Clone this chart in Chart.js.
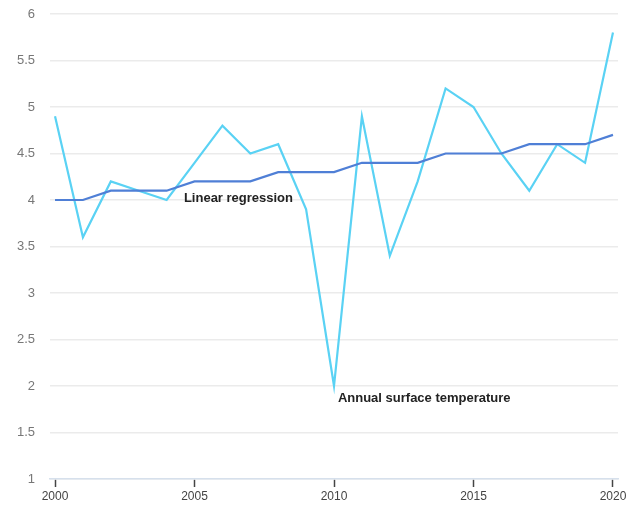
<!DOCTYPE html>
<html>
<head>
<meta charset="utf-8">
<script src="https://cdn.jsdelivr.net/npm/chart.js@4.4.0/dist/chart.umd.min.js"></script>
<style>
  html, body { margin: 0; padding: 0; background: #fff; }
  #wrap { width: 631px; height: 529px; }
</style>
</head>
<body>
<div id="wrap"><canvas id="tempChart"></canvas></div>
<script>
// years on the x axis
const years = [2000, 2001, 2002, 2003, 2004, 2005, 2006, 2007, 2008, 2009, 2010,
               2011, 2012, 2013, 2014, 2015, 2016, 2017, 2018, 2019, 2020];

// annual surface temperature
const annualTemp = [4.9, 3.6, 4.2, 4.1, 4.0, 4.4, 4.8, 4.5, 4.6, 3.9, 2.0,
                    4.9, 3.4, 4.2, 5.2, 5.0, 4.5, 4.1, 4.6, 4.4, 5.8];

// linear regression line (rounded to 0.1 like the source)
const regression = [4.0, 4.0, 4.1, 4.1, 4.1, 4.2, 4.2, 4.2, 4.3, 4.3, 4.3,
                    4.4, 4.4, 4.4, 4.5, 4.5, 4.5, 4.6, 4.6, 4.6, 4.7];

const xTicks = [2000, 2005, 2010, 2015, 2020];

// inline labels next to the lines, in data coordinates
const lineLabels = [
  { text: 'Linear regression', x: 2004.62, y: 4.02 },
  { text: 'Annual surface temperature', x: 2010.14, y: 1.87 }
];

const toPoints = (vals) => vals.map((v, i) => ({ x: years[i], y: v }));

const labelPlugin = {
  id: 'lineLabels',
  afterDatasetsDraw(chart) {
    const { ctx, scales } = chart;
    ctx.save();
    ctx.font = 'bold 13px "Liberation Sans", Arial, sans-serif';
    ctx.fillStyle = '#222';
    ctx.textAlign = 'left';
    ctx.textBaseline = 'middle';
    lineLabels.forEach(l => {
      ctx.fillText(l.text, scales.x.getPixelForValue(l.x), scales.y.getPixelForValue(l.y));
    });
    ctx.restore();
  }
};

const ctx = document.getElementById('tempChart').getContext('2d');

const tempChart = new Chart(ctx, {
  type: 'line',
  data: {
    datasets: [
      {
        label: 'Linear regression',
        data: toPoints(regression),
        borderColor: '#4f7fd6',
        borderWidth: 2.2,
        pointRadius: 0,
        tension: 0
      },
      {
        label: 'Annual surface temperature',
        data: toPoints(annualTemp),
        borderColor: '#5ad2f4',
        borderWidth: 2.2,
        pointRadius: 0,
        tension: 0
      }
    ]
  },
  plugins: [labelPlugin],
  options: {
    responsive: true,
    maintainAspectRatio: false,
    animation: false,
    layout: { padding: { top: 0, right: 13, left: 0, bottom: 0 } },
    plugins: {
      legend: { display: false },
      tooltip: { enabled: false }
    },
    scales: {
      x: {
        type: 'linear',
        min: 1999.82,
        max: 2020.18,
        afterBuildTicks: (axis) => { axis.ticks = xTicks.map(v => ({ value: v })); },
        afterFit: (axis) => { axis.height = 50; },
        grid: {
          drawOnChartArea: false,
          drawTicks: true,
          tickLength: 8,
          tickColor: '#444',
          tickWidth: 1.5
        },
        border: { color: '#d6e0ec', width: 1.5 },
        ticks: {
          padding: 2,
          color: '#444',
          font: { family: '"Liberation Sans", Arial, sans-serif', size: 12 },
          maxRotation: 0,
          callback: (v) => String(v)
        }
      },
      y: {
        min: 1,
        max: 6,
        afterFit: (axis) => { axis.width = 50; axis.paddingTop = 14; },
        grid: {
          color: '#ebebeb',
          lineWidth: 1.5,
          drawTicks: false
        },
        border: { display: false },
        ticks: {
          stepSize: 0.5,
          padding: 15,
          color: '#777',
          font: { family: '"Liberation Sans", Arial, sans-serif', size: 13 },
          callback: (v) => String(Math.round(v * 10) / 10)
        }
      }
    }
  }
});
</script>
</body>
</html>
